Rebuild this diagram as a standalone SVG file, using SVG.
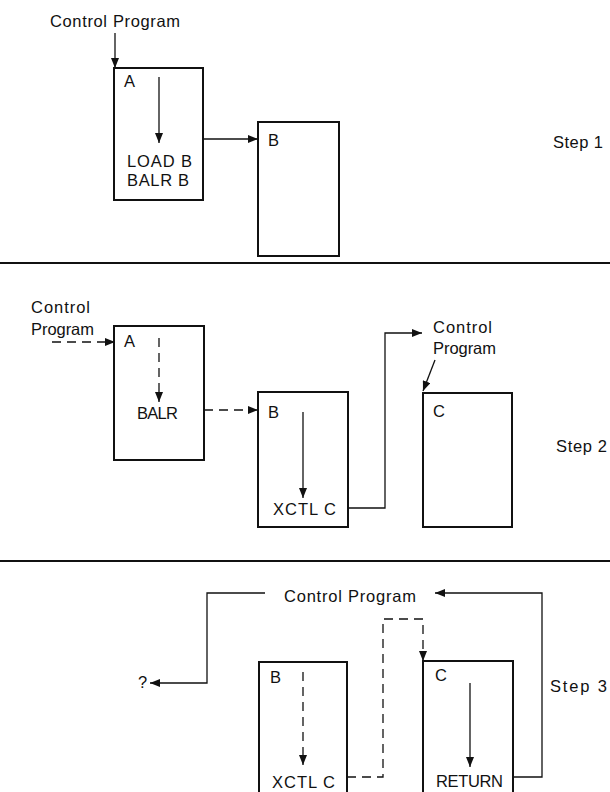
<svg xmlns="http://www.w3.org/2000/svg" width="610" height="792" viewBox="0 0 610 792">
<style>
text{font-family:"Liberation Sans",Arial,sans-serif;font-size:16.5px;fill:#111}
.box{fill:#fff;stroke:#111;stroke-width:2}
.c{fill:none;stroke:#111;stroke-width:1.3}
.d{fill:none;stroke:#111;stroke-width:1.3;stroke-dasharray:9 6}
.sep{stroke:#111;stroke-width:2}
</style>
<defs>
<marker id="ah" viewBox="0 0 10 8" refX="10" refY="4" markerWidth="10" markerHeight="8" markerUnits="userSpaceOnUse" orient="auto">
<path d="M0,0 L10,4 L0,8 Z" fill="#111"/>
</marker>
</defs>
<g id="separators">
<line class="sep" x1="0" y1="263" x2="610" y2="263"/>
<line class="sep" x1="0" y1="561" x2="610" y2="561"/>
</g>
<g id="step1">
<text x="50" y="27" textLength="130" lengthAdjust="spacing">Control Program</text>
<g id="s1A"><rect class="box" x="114" y="68" width="89" height="132"/>
<text x="124" y="87">A</text>
<text x="127" y="167" textLength="65" lengthAdjust="spacing">LOAD B</text>
<text x="127" y="186" textLength="62" lengthAdjust="spacing">BALR B</text></g>
<g id="s1B"><rect class="box" x="258" y="122" width="81" height="134"/>
<text x="268" y="146">B</text></g>
<text x="553" y="148" textLength="50" lengthAdjust="spacing">Step 1</text>
</g>
<g id="step2">
<text x="31" y="313" textLength="59" lengthAdjust="spacing">Control</text>
<text x="31" y="335" textLength="63" lengthAdjust="spacing">Program</text>
<g id="s2A"><rect class="box" x="114" y="326" width="90" height="134"/>
<text x="124" y="347">A</text>
<text x="137" y="419" textLength="41" lengthAdjust="spacing">BALR</text></g>
<g id="s2B"><rect class="box" x="258" y="392" width="90" height="135"/>
<text x="268" y="418">B</text>
<text x="273" y="515" textLength="63" lengthAdjust="spacing">XCTL C</text></g>
<text x="433" y="333" textLength="59" lengthAdjust="spacing">Control</text>
<text x="433" y="354" textLength="63" lengthAdjust="spacing">Program</text>
<g id="s2C"><rect class="box" x="423" y="393" width="89" height="134"/>
<text x="433" y="417">C</text></g>
<text x="556" y="452" textLength="51" lengthAdjust="spacing">Step 2</text>
</g>
<g id="step3">
<text x="284" y="602" textLength="132" lengthAdjust="spacing">Control Program</text>
<text x="138" y="688">?</text>
<g id="s3B"><rect class="box" x="259" y="662" width="88" height="150"/>
<text x="270" y="683">B</text>
<text x="272" y="788" textLength="63" lengthAdjust="spacing">XCTL C</text></g>
<g id="s3C"><rect class="box" x="423" y="661" width="90" height="150"/>
<text x="435" y="681">C</text>
<text x="436" y="787" textLength="67" lengthAdjust="spacing">RETURN</text></g>
<text x="550" y="692" textLength="57" lengthAdjust="spacing">Step 3</text>
</g>
<g id="connectors">
<line class="c" x1="115" y1="33" x2="115" y2="68" marker-end="url(#ah)"/>
<line class="c" x1="159" y1="77" x2="159" y2="143" marker-end="url(#ah)"/>
<line class="c" x1="203" y1="139" x2="258" y2="139" marker-end="url(#ah)"/>
<line class="d" x1="52" y1="342" x2="115" y2="342" marker-end="url(#ah)"/>
<line class="d" x1="159" y1="338" x2="159" y2="402" marker-end="url(#ah)"/>
<line class="d" x1="204" y1="410" x2="258" y2="410" marker-end="url(#ah)"/>
<line class="c" x1="303" y1="412" x2="303" y2="498" marker-end="url(#ah)"/>
<polyline class="c" points="348,508 385,508 385,333 422,333" marker-end="url(#ah)"/>
<line class="c" x1="435" y1="360" x2="423" y2="391" marker-end="url(#ah)"/>
<polyline class="c" points="265,593 207,593 207,683 150,683" marker-end="url(#ah)"/>
<polyline class="c" points="513,777 542,777 542,593 435,593" marker-end="url(#ah)"/>
<line class="d" x1="303" y1="672" x2="303" y2="765" marker-end="url(#ah)"/>
<polyline class="d" points="347,777 383,777 383,619 423,619 423,661" marker-end="url(#ah)"/>
<line class="c" x1="470" y1="683" x2="470" y2="767" marker-end="url(#ah)"/>
</g>
</svg>
